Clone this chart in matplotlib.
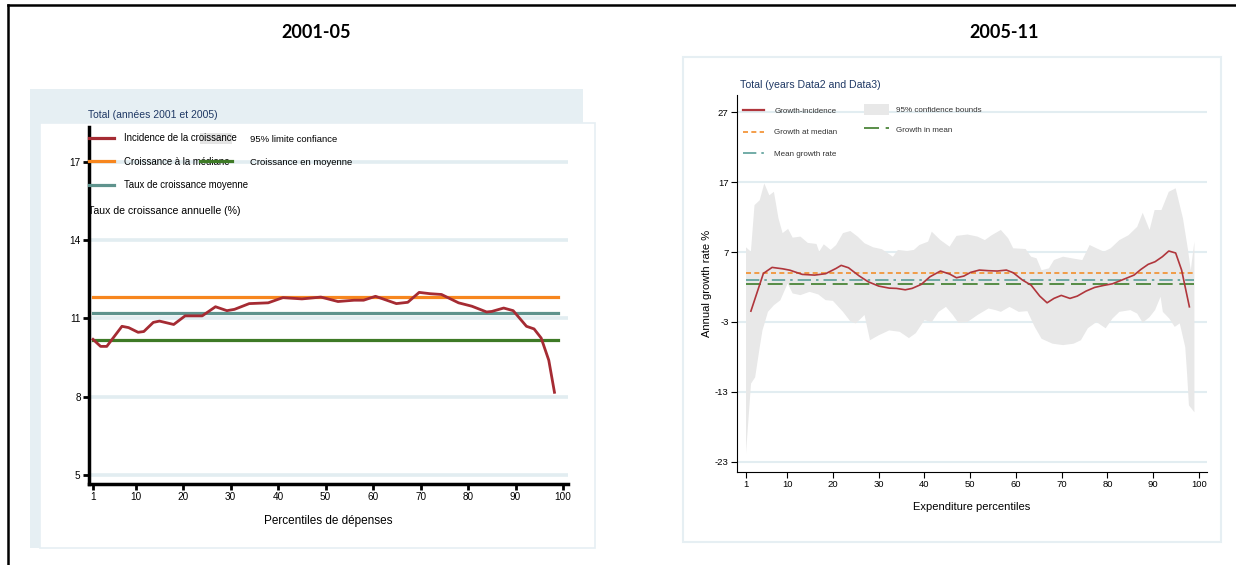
import matplotlib
matplotlib.use("Agg")
import matplotlib.pyplot as plt
from matplotlib.lines import Line2D
from matplotlib.patches import Rectangle, Patch

# ---- data: 2001-05 (left panel) ----
pct_01 = [1, 2.6, 3.9, 7.1, 8.5, 10.5, 11.7, 13.7, 15, 18, 20.4, 24, 26.8, 29.2,
          30.8, 33.9, 37.9, 41, 45, 49, 52.6, 56, 58, 60.5, 64.9, 67.3, 69.7, 72,
          74.4, 78, 80.8, 83.9, 85, 87.5, 89.5, 92.3, 93.9, 95.4, 97, 98.2]
gic_01 = [10.2, 9.93, 9.93, 10.7, 10.65, 10.47, 10.5, 10.85, 10.9, 10.77, 11.1, 11.1,
          11.45, 11.3, 11.35, 11.57, 11.6, 11.8, 11.75, 11.82, 11.65, 11.7, 11.7,
          11.85, 11.57, 11.62, 12.0, 11.95, 11.92, 11.6, 11.47, 11.25, 11.27, 11.4,
          11.3, 10.7, 10.6, 10.25, 9.4, 8.17]
median_01 = 11.84
mean_01 = 10.16
meanrate_01 = 11.2

# ---- data: 2005-11 (right panel) ----
pct_11 = [2.07, 4.8, 6.7, 9.0, 10.6, 13.3, 16.0, 18.4, 20.7, 21.8, 23.4, 25.7, 27.7,
          30.0, 32.3, 33.9, 35.8, 37.3, 39.3, 41.2, 43.5, 45.5, 47.0, 48.6, 50.1,
          52.0, 54.0, 55.9, 57.9, 59.4, 61.4, 63.3, 65.2, 66.8, 68.3, 69.9, 71.8,
          73.4, 75.3, 77.2, 79.2, 81.1, 83.5, 85.8, 87.3, 88.9, 90.4, 92.0, 93.4,
          94.9, 96.2, 97.9]
gic_11 = [-1.45, 3.94, 4.8, 4.6, 4.4, 3.8, 3.7, 3.9, 4.66, 5.09, 4.75, 3.6, 2.75,
          2.13, 1.84, 1.8, 1.6, 1.8, 2.37, 3.46, 4.28, 3.85, 3.32, 3.56, 4.09, 4.42,
          4.33, 4.28, 4.42, 4.04, 3.0, 2.27, 0.7, -0.26, 0.37, 0.8, 0.37, 0.7, 1.41,
          1.94, 2.23, 2.46, 3.09, 3.7, 4.51, 5.24, 5.61, 6.33, 7.14, 6.86, 4.42, -0.83]

ci_hi_x = [1.0, 2.07, 2.86, 4.0, 5.0, 6.1, 7.1, 8.1, 9.0, 10.2, 11.2, 12.9, 14.5, 16.4,
           17.0, 18.0, 19.5, 20.7, 22.2, 23.8, 25.4, 26.9, 28.8, 30.7, 33.1, 34.2,
           36.2, 37.7, 38.9, 40.8, 41.6, 43.5, 45.5, 47.0, 49.4, 51.6, 53.2, 54.7,
           56.7, 58.3, 59.4, 62.1, 63.3, 64.5, 65.6, 67.2, 68.3, 70.3, 72.2, 74.5,
           76.1, 77.6, 79.2, 80.7, 82.6, 84.6, 86.5, 87.7, 89.2, 90.3, 91.8, 93.4,
           94.9, 96.5, 97.6, 98.2, 99.0]
ci_hi = [7.67, 7.05, 13.7, 14.4, 16.8, 15.1, 15.6, 11.8, 9.7, 10.3, 9.05, 9.2, 8.3,
         8.15, 7.05, 8.1, 7.3, 8.0, 9.7, 10.0, 9.2, 8.25, 7.67, 7.4, 6.33, 7.3, 7.14,
         7.3, 8.0, 8.48, 9.9, 8.7, 7.76, 9.3, 9.5, 9.2, 8.7, 9.4, 10.15, 8.96, 7.53,
         7.43, 6.33, 6.1, 4.4, 4.66, 5.85, 6.33, 6.1, 5.85, 8.0, 7.53, 7.05, 7.53,
         8.7, 9.4, 10.6, 12.6, 10.15, 13.0, 13.0, 15.6, 16.1, 11.8, 7.3, 4.4, 8.5]
ci_lo_x = [1.0, 2.1, 3.0, 4.0, 4.6, 5.8, 7.1, 8.5, 10.1, 11.2, 12.9, 14.9, 16.8, 18.4,
           20.0, 22.2, 23.8, 25.0, 26.9, 28.1, 30.0, 32.3, 34.6, 36.6, 38.1, 40.0,
           41.6, 43.1, 44.7, 46.2, 47.4, 49.4, 51.6, 54.0, 55.5, 56.7, 58.6, 60.6,
           62.5, 64.1, 65.6, 68.0, 70.3, 72.6, 74.2, 75.7, 77.6, 79.6, 81.1, 82.6,
           85.0, 86.5, 87.7, 89.2, 90.4, 91.6, 92.1, 93.5, 94.7, 95.8, 97.0, 97.4,
           97.8, 99.0]
ci_lo = [-21.75, -11.8, -10.9, -6.6, -4.2, -1.55, -0.6, 0.1, 2.5, 1.08, 0.84, 1.31,
         0.94, 0.12, 0.02, -1.55, -2.9, -3.2, -2.0, -5.6, -4.9, -4.2, -4.4, -5.3,
         -4.6, -2.74, -3.0, -1.55, -0.84, -2.0, -3.1, -3.0, -2.0, -1.07, -1.3, -1.55,
         -0.84, -1.55, -1.45, -3.7, -5.4, -6.1, -6.3, -6.1, -5.6, -3.9, -3.0, -3.9,
         -2.5, -1.55, -1.3, -1.8, -3.1, -2.3, -1.3, 0.6, -1.55, -2.5, -3.7, -3.2,
         -6.6, -10.4, -14.9, -15.9]
median_11 = 4.03
mean_11 = 2.46
meanrate_11 = 3.0

xticks = [1, 10, 20, 30, 40, 50, 60, 70, 80, 90, 100]
yticks_01 = [5, 8, 11, 14, 17]
yticks_11 = [-23, -13, -3, 7, 17, 27]

W, H = 1236, 565
plt.rcParams['font.family'] = ['Liberation Sans', 'DejaVu Sans']
plt.rcParams['axes.unicode_minus'] = False


def rect(x0, y0, x1, y1):
    return [x0 / W, 1 - y1 / H, (x1 - x0) / W, (y1 - y0) / H]


def fx(x):
    return x / W


def fy(y):
    return 1 - y / H


fig = plt.figure(figsize=(W / 100, H / 100), dpi=100)
fig.patch.set_facecolor('white')

# slide frame
fig.add_artist(Line2D([fx(8), 1], [fy(5), fy(5)], color='black', lw=1.8))
fig.add_artist(Line2D([fx(8), fx(8)], [fy(5), 0], color='black', lw=1.8))

# panel titles
fig.text(fx(316), fy(33), '2001-05', ha='center', va='center', fontsize=13,
         fontweight='bold', family='Lato')
fig.text(fx(1004), fy(33), '2005-11', ha='center', va='center', fontsize=13,
         fontweight='bold', family='Lato')

grid_c = '#e2edf1'
navy = '#1f3864'

# ---------------- left panel ----------------
fig.add_artist(Rectangle((fx(30), fy(548)), fx(553), 459 / H, transform=fig.transFigure,
                         facecolor='#e6eff3', edgecolor='none', zorder=0))
fig.add_artist(Rectangle((fx(40), fy(548)), fx(555), 425 / H, transform=fig.transFigure,
                         facecolor='white', edgecolor='#e6eff3', lw=1.2, zorder=0))
fig.text(fx(88), fy(115), 'Total (années 2001 et 2005)', color=navy, fontsize=7.5,
         va='center')

ax1 = fig.add_axes(rect(89, 127, 568, 484))
ax1.patch.set_alpha(0)
ax1.set_xlim(0.157, 101.05)
ax1.set_ylim(4.655, 18.34)
for v in yticks_01:
    ax1.axhline(v, color=grid_c, lw=2.6, zorder=0)
ax1.plot([1, 99], [median_01, median_01], color='#f7861e', lw=2.3, zorder=2)
ax1.plot([1, 99], [meanrate_01, meanrate_01], color='#5f938d', lw=2.3, zorder=2)
ax1.plot([1, 99], [mean_01, mean_01], color='#3e7a26', lw=2.3, zorder=2)
ax1.plot(pct_01, gic_01, color='#a52b33', lw=2.0, zorder=3)
for s in ['top', 'right']:
    ax1.spines[s].set_visible(False)
for s in ['left', 'bottom']:
    ax1.spines[s].set_linewidth(2.5)
ax1.set_xticks(xticks)
ax1.set_yticks(yticks_01)
ax1.tick_params(length=4, width=2, labelsize=7.2, pad=2)
ax1.set_xlabel('Percentiles de dépenses', fontsize=8.5, labelpad=9)
fig.text(fx(88), fy(211), 'Taux de croissance annuelle (%)', fontsize=7.6, va='center')

# legend pieces, stacked: grey key under the texts, green key over them
leg_p1 = ax1.legend(
    [Patch(facecolor='#e4e4e4', edgecolor='none')], ['95% limite confiance'],
    loc='upper left', bbox_to_anchor=(fx(200), fy(133)), bbox_transform=fig.transFigure,
    frameon=False, fontsize=6.8, handlelength=3.4, handletextpad=1.9, handleheight=1.4,
    borderpad=0, borderaxespad=0)
leg_p1.set_zorder(5)
ax1.add_artist(leg_p1)
leg_a1 = ax1.legend(
    [Line2D([], [], color='#a52b33', lw=2.3), Line2D([], [], color='#f7861e', lw=2.3),
     Line2D([], [], color='#5f938d', lw=2.3)],
    ['Incidence de la croissance', 'Croissance à la médiane', 'Taux de croissance moyenne'],
    loc='upper left', bbox_to_anchor=(fx(89), fy(133)), bbox_transform=fig.transFigure,
    frameon=False, fontsize=6.9, handlelength=2.6, handletextpad=1.1,
    labelspacing=1.43, borderpad=0, borderaxespad=0)
leg_a1.set_zorder(6)
ax1.add_artist(leg_a1)
leg_g1 = ax1.legend(
    [Line2D([], [], color='#3e7a26', lw=2.3)], ['Croissance en moyenne'],
    loc='upper left', bbox_to_anchor=(fx(200), fy(156.5)), bbox_transform=fig.transFigure,
    frameon=False, fontsize=6.8, handlelength=3.4, handletextpad=1.9, handleheight=1.4,
    borderpad=0, borderaxespad=0)
leg_g1.set_zorder(7)

# ---------------- right panel ----------------
fig.add_artist(Rectangle((fx(683), fy(542)), fx(538), 485 / H, transform=fig.transFigure,
                         facecolor='white', edgecolor='#e6eff3', lw=1.5, zorder=0))
fig.text(fx(740), fy(85), 'Total (years Data2 and Data3)', color=navy, fontsize=7.6,
         va='center')

ax2 = fig.add_axes(rect(737, 95, 1207, 472))
ax2.patch.set_alpha(0)
ax2.set_xlim(-0.967, 101.75)
ax2.set_ylim(-24.43, 29.43)
for v in yticks_11:
    ax2.axhline(v, color=grid_c, lw=1.5, zorder=0)
ax2.fill(ci_hi_x + ci_lo_x[::-1], ci_hi + ci_lo[::-1], color='#e8e8e8', lw=0, zorder=1)
ax2.plot([1, 99], [median_11, median_11], color='#f28e2b', lw=1.2, ls=(0, (3, 2)), zorder=2)
ax2.plot([1, 99], [meanrate_11, meanrate_11], color='#5a9e98', lw=1.2,
         ls=(0, (8, 3, 1.5, 3)), zorder=2)
ax2.plot([1, 99], [mean_11, mean_11], color='#3d7c2a', lw=1.2, ls=(0, (9, 4)), zorder=2)
ax2.plot(pct_11, gic_11, color='#b0363c', lw=1.2, zorder=3)
for s in ['top', 'right']:
    ax2.spines[s].set_visible(False)
ax2.set_xticks(xticks)
ax2.set_yticks(yticks_11)
ax2.tick_params(length=4, width=0.8, labelsize=6.8, pad=2)
ax2.set_xlabel('Expenditure percentiles', fontsize=8, labelpad=9)
ax2.set_ylabel('Annual growth rate %', fontsize=8, labelpad=2)

leg_a2 = ax2.legend(
    [Line2D([], [], color='#b0363c', lw=1.6),
     Line2D([], [], color='#f28e2b', lw=1.2, ls=(0, (3, 2))),
     Line2D([], [], color='#5a9e98', lw=1.2, ls=(0, (8, 3, 1.5, 3)))],
    ['Growth-incidence', 'Growth at median', 'Mean growth rate'],
    loc='upper left', bbox_to_anchor=(fx(743), fy(107)), bbox_transform=fig.transFigure,
    frameon=False, fontsize=5.8, handlelength=2.6, handletextpad=1.3,
    labelspacing=1.75, borderpad=0, borderaxespad=0, labelcolor='#333333')
ax2.add_artist(leg_a2)
ax2.legend(
    [Patch(facecolor='#e8e8e8', edgecolor='none'),
     Line2D([], [], color='#3d7c2a', lw=1.2, ls=(0, (9, 4)))],
    ['95% confidence bounds', 'Growth in mean'],
    loc='upper left', bbox_to_anchor=(fx(864), fy(104)), bbox_transform=fig.transFigure,
    frameon=False, fontsize=5.8, handlelength=3.1, handletextpad=0.9, handleheight=1.8,
    labelspacing=1.0, borderpad=0, borderaxespad=0, labelcolor='#333333')

fig.savefig('out.png', dpi=100)
